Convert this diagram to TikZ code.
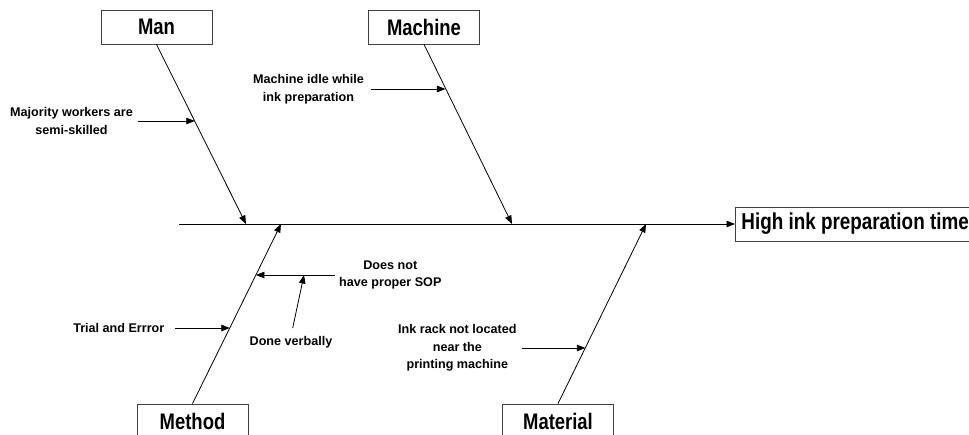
\documentclass[tikz,border=0pt]{standalone}
\usepackage{fontspec}
\setmainfont{Liberation Sans}
\newfontfamily\narrowfont{Liberation Sans}[FakeStretch=0.82]
\usetikzlibrary{arrows.meta,calc}

\begin{document}
\begin{tikzpicture}[x=1pt,y=-1pt,
  catbox/.style={draw=black!75, line width=0.8pt, minimum width=111pt,
    minimum height=34pt, inner sep=0pt,
    font=\narrowfont\bfseries\fontsize{22.5}{26}\selectfont},
  effectbox/.style={draw=black!75, line width=0.8pt, minimum height=34pt,
    inner xsep=6pt, inner ysep=0pt, anchor=west,
    font=\narrowfont\bfseries\fontsize{23}{27}\selectfont},
  cause/.style={inner sep=0pt, align=center,
    font=\bfseries\fontsize{12.6}{17.5}\selectfont},
  bone/.style={line width=0.8pt, -{Triangle[length=8.5pt,width=6.5pt]}},
  twig/.style={line width=0.8pt, -{Triangle[length=8.5pt,width=6.5pt]}}
]
\useasboundingbox (0,0) rectangle (969,435);
\clip (0,0) rectangle (969,435);

% category boxes
\node[catbox] (man) at (156.5,27) {Man};
\node[catbox] (machine) at (424,27) {Machine};
\node[catbox] (method) at (192.5,421) {Method};
\node[catbox] (material) at (558,421) {Material};

% effect
\node[effectbox] (effect) at (735,224) {High ink preparation time};

% spine
\coordinate (tail) at (179,224);
\draw[bone] (tail) -- (effect.west);

% bones meeting the spine
\coordinate (manend) at (246,224);
\coordinate (machend) at (512,224);
\coordinate (methend) at (281,224);
\coordinate (matend) at (646,224);
\draw[bone] (man.south) -- (manend);
\draw[bone] (machine.south) -- (machend);
\draw[bone] (method.north) -- (methend);
\draw[bone] (material.north) -- (matend);

% points where the causes meet the bones
\coordinate (pman) at ($(man.south)!0.428!(manend)$);
\coordinate (pmach) at ($(machine.south)!0.244!(machend)$);
\coordinate (psop) at ($(method.north)!0.7167!(methend)$);
\coordinate (ptrial) at ($(method.north)!0.422!(methend)$);
\coordinate (pmat) at ($(material.north)!0.311!(matend)$);

% causes
\node[cause, anchor=east] (semi) at (133,121) {Majority workers are\\semi-skilled};
\draw[twig, shorten <=5pt] (semi.east) -- (semi.east -| pman);

\node[cause, anchor=east] (idle) at (364,89) {Machine idle while\\ink preparation};
\draw[twig, shorten <=6.5pt] (idle.east) -- (idle.east -| pmach);

\node[cause, anchor=west] (sop) at (339,275) {Does not\\have proper SOP};
\draw[twig, shorten <=4pt] (sop.west) -- (sop.west -| psop);
\coordinate (psopline) at (304,275);

\node[cause] (verbal) at (291,342) {Done verbally};
\draw[twig, shorten <=8pt] (verbal.north) -- (psopline);

\node[cause, anchor=east] (trial) at (164.5,328) {Trial and Errror};
\draw[twig, shorten <=10.5pt] (trial.east) -- (trial.east -| ptrial);

\node[cause, anchor=east] (rack) at (516.7,348) {Ink rack not located\\near the\\printing machine};
\draw[twig, shorten <=5pt] (rack.east) -- (rack.east -| pmat);
\end{tikzpicture}
\end{document}
